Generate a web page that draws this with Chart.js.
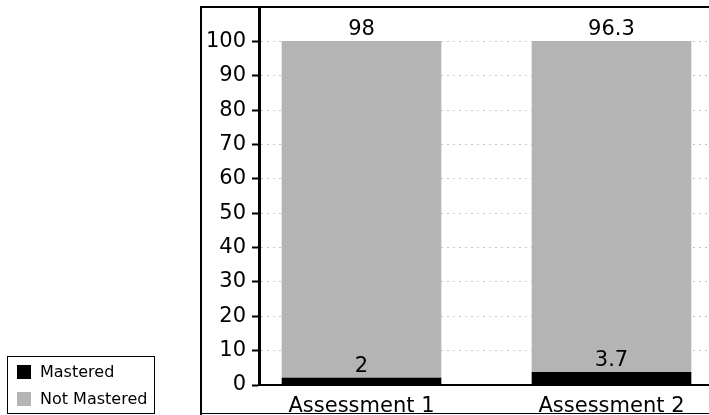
<!DOCTYPE html>
<html>
<head>
<meta charset="utf-8">
<script src="https://cdn.jsdelivr.net/npm/chart.js@4/dist/chart.umd.min.js"></script>
<style>
  body { margin: 0; background: #fff; }
  #wrap { position: relative; width: 709px; height: 415px; overflow: hidden; }
  #legend {
    position: absolute; left: 7px; top: 356px; width: 146px; height: 56px;
    border: 1px solid #000; font: 16px 'DejaVu Sans', sans-serif; color: #000;
  }
  .item { position: absolute; left: 9px; height: 18px; line-height: 18px; white-space: nowrap; }
  .sw { display: inline-block; width: 14px; height: 14px; vertical-align: -2px; margin-right: 9px; }
</style>
</head>
<body>
<div id="wrap">
  <canvas id="myChart" width="709" height="415"></canvas>
  <div id="legend"></div>
</div>
<script>
// DATA
const categories = ['Assessment 1', 'Assessment 2'];
const mastered = [2, 3.7];
const notMastered = [98, 96.3];
const yTicks = [0, 10, 20, 30, 40, 50, 60, 70, 80, 90, 100];

const colMastered = '#000000';
const colNotMastered = '#b4b4b4';
const FONT = "'DejaVu Sans', sans-serif";

// LEGEND
const legend = document.getElementById('legend');
[['Mastered', colMastered, 6], ['Not Mastered', colNotMastered, 33]].forEach(function (it) {
    const d = document.createElement('div');
    d.className = 'item';
    d.style.top = it[2] + 'px';
    d.innerHTML = '<span class="sw" style="background:' + it[1] + '"></span>' + it[0];
    legend.appendChild(d);
});

// value labels above each segment
const valueLabels = {
    id: 'valueLabels',
    afterDatasetsDraw(chart) {
        const ctx = chart.ctx;
        ctx.save();
        ctx.font = '21px ' + FONT;
        ctx.fillStyle = '#000';
        ctx.textAlign = 'center';
        ctx.textBaseline = 'bottom';
        chart.data.datasets.forEach(function (ds, i) {
            chart.getDatasetMeta(i).data.forEach(function (bar, j) {
                ctx.fillText(String(ds.data[j].y), bar.x, bar.y - 1);
            });
        });
        ctx.restore();
    }
};

// outer frame
const frame = {
    id: 'frame',
    afterDraw(chart) {
        const ctx = chart.ctx;
        ctx.save();
        ctx.strokeStyle = '#000';
        ctx.lineWidth = 2;
        ctx.beginPath();
        ctx.moveTo(201, 415);
        ctx.lineTo(201, 7);
        ctx.lineTo(709, 7);
        ctx.stroke();
        ctx.lineWidth = 1;
        ctx.beginPath();
        ctx.moveTo(201, 413.5);
        ctx.lineTo(709, 413.5);
        ctx.stroke();
        ctx.restore();
    }
};

const ctx = document.getElementById('myChart').getContext('2d');
const myChart = new Chart(ctx, {
    type: 'bar',
    data: {
        datasets: [{
            label: 'Mastered',
            data: categories.map((c, i) => ({ x: i, y: mastered[i] })),
            backgroundColor: colMastered,
            barThickness: 159
        }, {
            label: 'Not Mastered',
            data: categories.map((c, i) => ({ x: i, y: notMastered[i] })),
            backgroundColor: colNotMastered,
            barThickness: 159
        }]
    },
    options: {
        responsive: false,
        animation: false,
        layout: { padding: { top: 7, left: 0, right: 0, bottom: 0 } },
        plugins: {
            legend: { display: false },
            tooltip: { enabled: false }
        },
        scales: {
            x: {
                type: 'linear',
                stacked: true,
                offset: false,
                min: -0.41,
                max: 1.39,
                afterBuildTicks: function (scale) {
                    scale.ticks = categories.map((c, i) => ({ value: i }));
                },
                afterFit: function (scale) {
                    scale.height = 30;
                    scale.paddingLeft = 0;
                    scale.paddingRight = 0;
                },
                ticks: {
                    autoSkip: false,
                    maxRotation: 0,
                    padding: 1,
                    color: '#000',
                    font: { family: FONT, size: 21 },
                    callback: function (v) { return categories[v]; }
                },
                grid: { display: false, offset: false },
                border: { display: true, color: '#000', width: 2 }
            },
            y: {
                stacked: true,
                min: 0,
                max: 110,
                afterBuildTicks: function (scale) {
                    scale.ticks = yTicks.map(v => ({ value: v }));
                },
                afterFit: function (scale) {
                    scale.width = 259;
                    scale.paddingTop = 0;
                    scale.paddingBottom = 0;
                },
                ticks: {
                    padding: 6,
                    color: '#000',
                    font: { family: FONT, size: 21 }
                },
                grid: {
                    color: '#c8c8c8',
                    tickColor: '#000',
                    tickLength: 7,
                    lineWidth: 1,
                    tickWidth: 2
                },
                border: { color: '#000', width: 3, dash: [2, 4] }
            }
        }
    },
    plugins: [valueLabels, frame]
});
</script>
</body>
</html>
